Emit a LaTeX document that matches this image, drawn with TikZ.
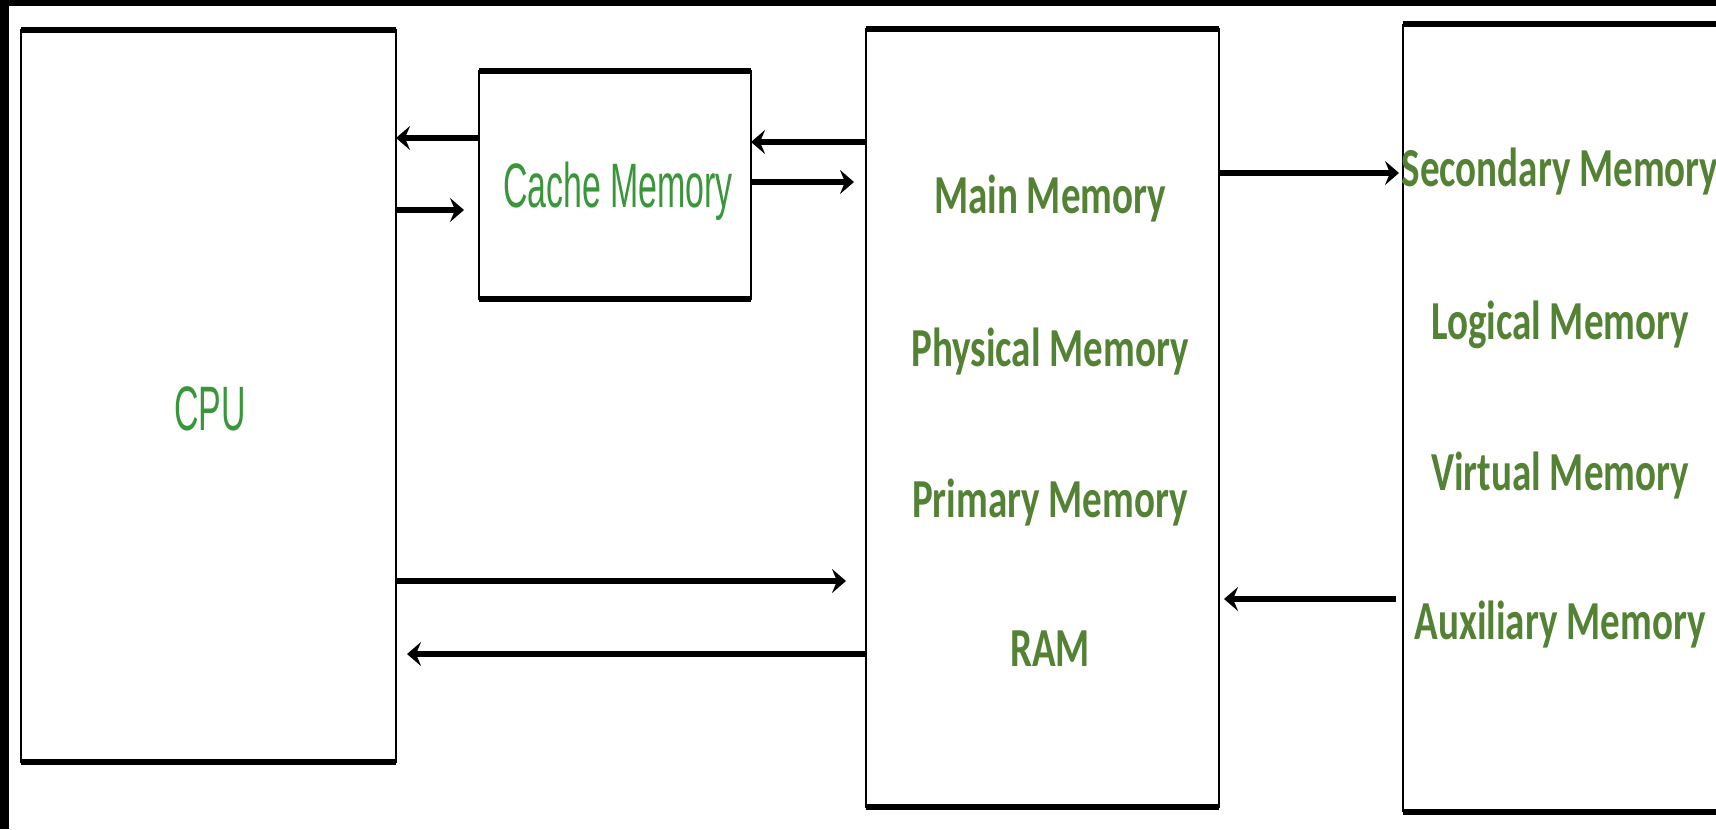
\documentclass[tikz,border=0pt]{standalone}
\usepackage{fontspec}
\usetikzlibrary{arrows.meta,positioning,calc}
\newfontfamily\narrowsans[FakeStretch=0.54]{Liberation Sans}
\newfontfamily\calibsans[FakeStretch=0.71]{Carlito}
\definecolor{CacheGreen}{RGB}{58,150,58}
\definecolor{MemGreen}{RGB}{84,130,53}

\begin{document}
\begin{tikzpicture}[x=0.5pt,y=-0.5pt,
  unit/.style={draw,line width=1.3pt,outer sep=0pt,inner sep=0pt},
  openunit/.style={outer sep=0pt,inner sep=0pt},
  rim/.style={line width=3pt},
  side/.style={line width=1.3pt},
  flow/.style={-{Stealth[length=7pt,width=12pt,inset=2.5pt]},line width=2.6pt},
  cachetext/.style={CacheGreen,anchor=base,font=\narrowsans\fontsize{31.4}{36}\selectfont},
  memtext/.style={MemGreen,anchor=base,font=\calibsans\bfseries\fontsize{27.5}{32}\selectfont}]
  \useasboundingbox (0,0) rectangle (1716,829);
  \clip (0,0) rectangle (1716,829);
  \fill[white] (0,0) rectangle (1716,829);
  \fill[black] (0,0) rectangle (1716,6);
  \fill[black] (0,0) rectangle (9,829);

  % boxes
  \node[unit,minimum width=187.5pt,minimum height=366pt] (cpu) at (208.5,396) {};
  \node[unit,minimum width=136pt,minimum height=114pt] (cache) at (615,185) {};
  \node[unit,minimum width=176.5pt,minimum height=389pt] (main) at (1042.5,418) {};
  \node[openunit,minimum width=160pt,minimum height=394pt] (sec) at (1563,418) {};
  \draw[side] (sec.north west) -- (sec.south west);
  \foreach \b in {cpu,cache,main,sec}
    \draw[rim] (\b.north west) -- (\b.north east) (\b.south west) -- (\b.south east);

  % labels
  \node[cachetext] (cpu text) at (210,430) {CPU};
  \node[cachetext] (cache text) at (618,207) {Cache Memory};
  \foreach \name/\txt/\yy in {mainmem/Main Memory/213,physmem/Physical Memory/366,
      primmem/Primary Memory/517,ram/RAM/666}
    \node[memtext] (\name) at (1050,\yy) {\txt};
  \foreach \name/\txt/\yy in {secmem/Secondary Memory/186,logmem/Logical Memory/339,
      virtmem/Virtual Memory/490,auxmem/Auxiliary Memory/639}
    \node[memtext] (\name) at (1560,\yy) {\txt};

  % arrow levels
  \coordinate (r1) at (0,138);
  \coordinate (r2) at (0,210);
  \coordinate (r3) at (0,142);
  \coordinate (r4) at (0,182);
  \coordinate (r5) at (0,173);
  \coordinate (r6) at (0,581);
  \coordinate (r7) at (0,654);
  \coordinate (r8) at (0,599);

  \draw[flow] (cache.west |- r1) -- (cpu.east |- r1);
  \draw[flow,shorten >=7.5pt] (cpu.east |- r2) -- (cache.west |- r2);
  \draw[flow] (main.west |- r3) -- (cache.east |- r3);
  \draw[flow,shorten >=6pt] (cache.east |- r4) -- (main.west |- r4);
  \draw[flow,shorten >=2pt] (main.east |- r5) -- (sec.west |- r5);
  \draw[flow,shorten >=10pt] (cpu.east |- r6) -- (main.west |- r6);
  \draw[flow,shorten >=5.5pt] (main.west |- r7) -- (cpu.east |- r7);
  \draw[flow,shorten <=3.5pt,shorten >=2.5pt] (sec.west |- r8) -- (main.east |- r8);
\end{tikzpicture}
\end{document}
